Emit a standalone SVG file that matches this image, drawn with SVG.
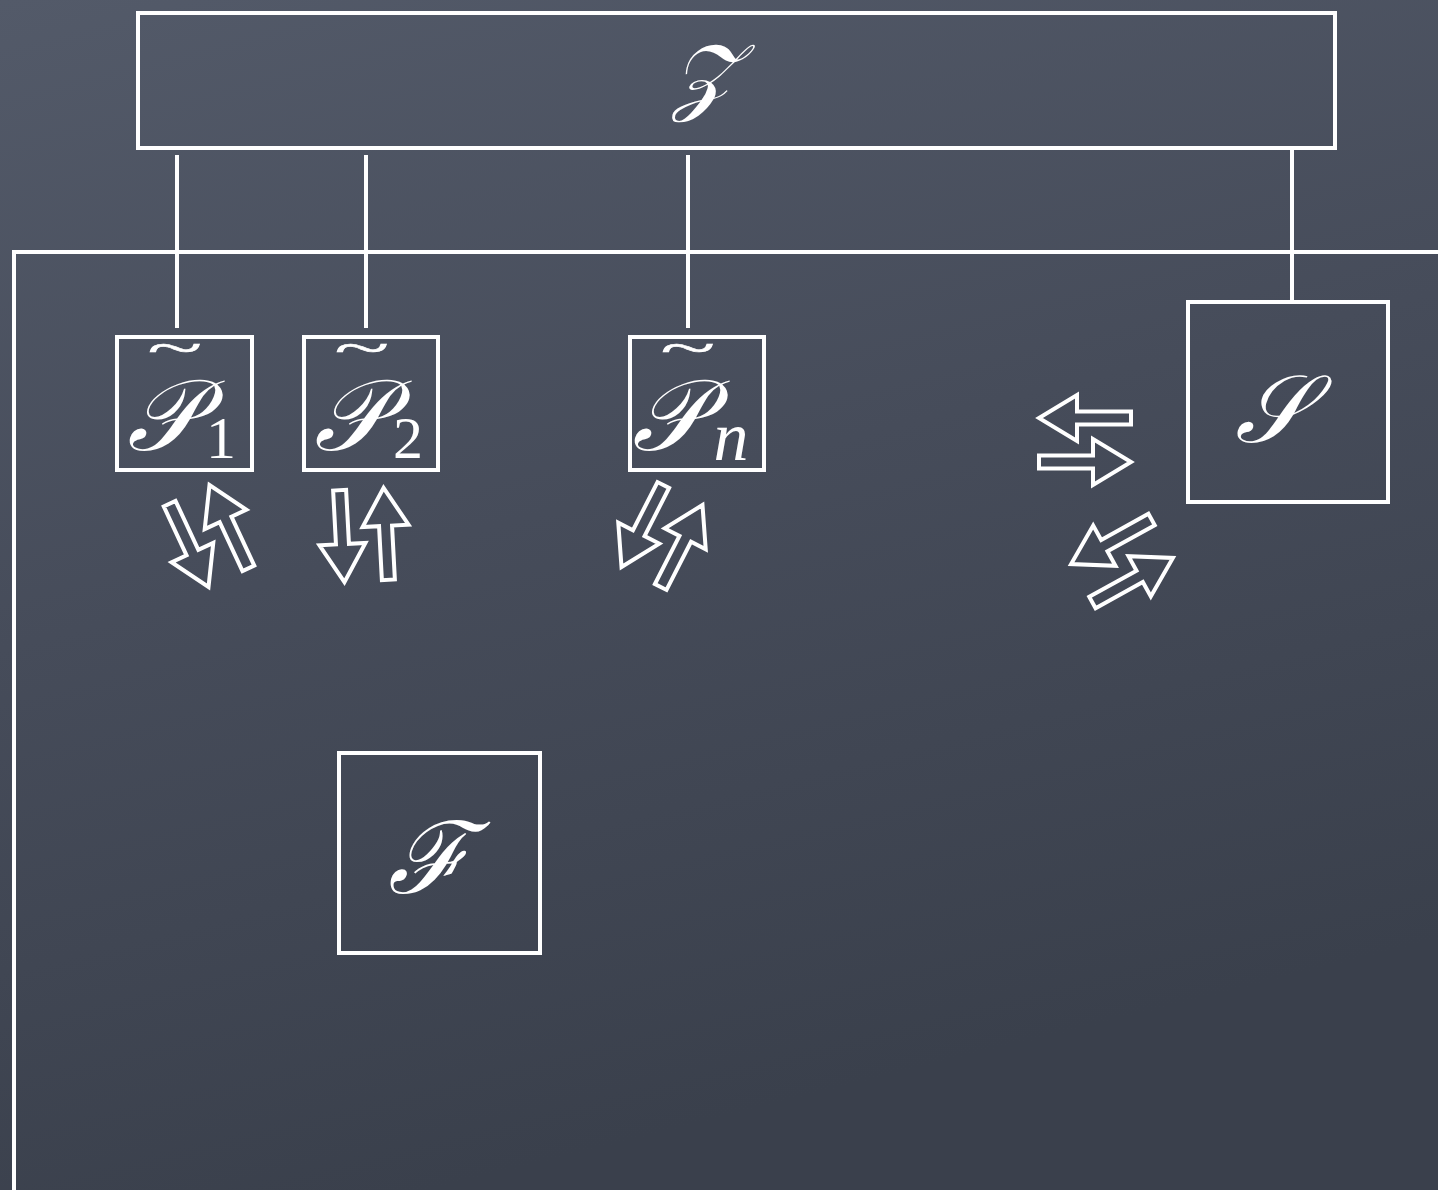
<svg xmlns="http://www.w3.org/2000/svg" width="1438" height="1190" viewBox="0 0 1438 1190">
<defs>
<linearGradient id="bg" x1="0" y1="0" x2="0.3" y2="1">
<stop offset="0" stop-color="#535a69"/>
<stop offset="0.5" stop-color="#464c5a"/>
<stop offset="1" stop-color="#3a404c"/>
</linearGradient>
<path id="arr" d="M-46,-6.5 L8,-6.5 L8,-23 L46,0 L8,23 L8,6.5 L-46,6.5 Z"/>
<g id="pair">
<use href="#arr" transform="translate(0,-22) rotate(180)"/>
<use href="#arr" transform="translate(0,22)"/>
</g>
</defs>
<style>
.box{fill:none;stroke:#fff;stroke-width:4}
.ln{stroke:#fff;stroke-width:4;fill:none}
.ar{fill:none;stroke:#fff;stroke-width:4;stroke-linejoin:miter}
.m{fill:#fff;font-family:"Liberation Serif","DejaVu Serif",serif;font-style:italic}
.sub{fill:#fff;font-family:"Liberation Serif","DejaVu Serif",serif}
.til{fill:#fff;stroke:#fff;stroke-width:0.6;font-family:"Liberation Serif","DejaVu Serif",serif;font-size:46px;text-anchor:middle}
</style>
<rect width="1438" height="1190" fill="url(#bg)"/>
<g id="frame">
<path class="ln" d="M14,1190 L14,252 L1438,252"/>
</g>
<g id="connectors">
<line class="ln" x1="177" y1="155" x2="177" y2="328"/>
<line class="ln" x1="366" y1="155" x2="366" y2="328"/>
<line class="ln" x1="688" y1="155" x2="688" y2="328"/>
<line class="ln" x1="1292" y1="148" x2="1292" y2="301"/>
<g class="ar">
<use href="#pair" transform="translate(209,536) rotate(65)"/>
<use href="#pair" transform="translate(364,535) rotate(87)"/>
<use href="#pair" transform="translate(662,536) rotate(117)"/>
<use href="#pair" transform="translate(1085,440)"/>
<use href="#pair" transform="translate(1122,561) rotate(-29)"/>
</g>
</g>
<g id="Z">
<rect class="box" x="138" y="13" width="1197" height="135"/>
<text class="m" x="704" y="104" font-size="85" text-anchor="middle">𝒵</text>
</g>
<g id="P1">
<rect class="box" x="117" y="337" width="135" height="133"/>
<text class="til" transform="translate(175,363) scale(2.2,1)">~</text>
<text class="m" x="163" y="450" font-size="100" text-anchor="middle">𝒫</text>
<text class="sub" x="221" y="458" font-size="60" text-anchor="middle">1</text>
</g>
<g id="P2">
<rect class="box" x="304" y="337" width="134" height="133"/>
<text class="til" transform="translate(362,363) scale(2.2,1)">~</text>
<text class="m" x="350" y="450" font-size="100" text-anchor="middle">𝒫</text>
<text class="sub" x="408" y="458" font-size="60" text-anchor="middle">2</text>
</g>
<g id="Pn">
<rect class="box" x="630" y="337" width="134" height="133"/>
<text class="til" transform="translate(688,363) scale(2.2,1)">~</text>
<text class="m" x="668" y="450" font-size="100" text-anchor="middle">𝒫</text>
<text class="m" x="731" y="460" font-size="70" text-anchor="middle">n</text>
</g>
<g id="S">
<rect class="box" x="1188" y="302" width="200" height="200"/>
<text class="m" x="1272" y="442" font-size="95" text-anchor="middle">𝒮</text>
</g>
<g id="F">
<rect class="box" x="339" y="753" width="201" height="200"/>
<text class="m" x="429" y="893" font-size="100" text-anchor="middle">ℱ</text>
</g>
</svg>
